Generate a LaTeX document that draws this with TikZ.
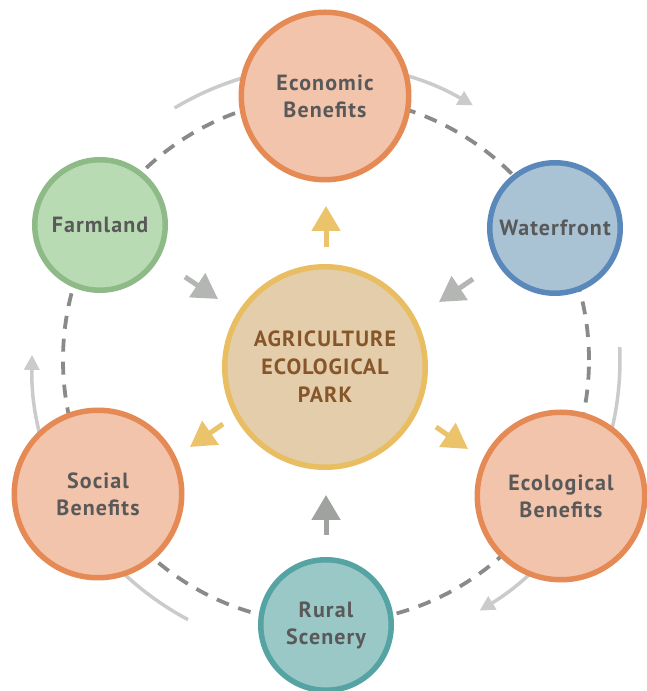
\documentclass[tikz,border=0pt]{standalone}
\usepackage{fontspec}
\setmainfont{PT Sans}
\newfontfamily\lblfont{PT Sans}[LetterSpace=5]
\usetikzlibrary{arrows.meta,calc}
\definecolor{txt}{HTML}{595959}
\definecolor{ctxt}{HTML}{86562A}
\definecolor{orfill}{HTML}{F2C4AC}
\definecolor{ordraw}{HTML}{E58A55}
\definecolor{grfill}{HTML}{B9DBB4}
\definecolor{grdraw}{HTML}{8DBA86}
\definecolor{blfill}{HTML}{A9C3D5}
\definecolor{bldraw}{HTML}{5B88BB}
\definecolor{tlfill}{HTML}{9AC8C7}
\definecolor{tldraw}{HTML}{55A3A2}
\definecolor{cfill}{HTML}{E3CDAA}
\definecolor{cdraw}{HTML}{E9BE62}
\definecolor{yarr}{HTML}{EBC36B}
\definecolor{garr}{HTML}{B4B6B4}
\definecolor{darr}{HTML}{A0A2A0}
\definecolor{ring}{HTML}{8A8A8A}
\definecolor{outer}{HTML}{CACBCA}
\tikzset{
  bubble/.style={circle, line width=5.5pt, align=center, text=txt,
    font=\lblfont\fontsize{22}{27}\selectfont\bfseries, inner sep=0pt},
  bigbubble/.style={bubble, minimum size=167.5pt, fill=orfill, draw=ordraw},
  smallbubble/.style={bubble, minimum size=130.5pt},
  fatarrow/.style={line width=5pt, -{Triangle[length=25pt,width=28pt]}},
  cyclearc/.style={draw=outer, line width=3.5pt, -{Triangle[length=15pt,width=15pt]}},
  ringline/.style={draw=ring, line width=3.8pt, dash pattern=on 13pt off 10pt}
}
\begin{document}
\begin{tikzpicture}[x=1pt,y=1pt]
\useasboundingbox (0,0) rectangle (647,691);
\coordinate (C) at (326,331);
% outer cycle arcs
\draw[cyclearc] ($(C)+(121:294)$) arc[start angle=121, end angle=60, radius=294];
\draw[cyclearc] ($(C)+(2.5:294)$) arc[start angle=2.5, end angle=-58.5, radius=294];
\draw[cyclearc] ($(C)+(242:294)$) arc[start angle=242, end angle=179, radius=294];
% dashed ring
\draw[ringline] (C) circle[radius=263];
% nodes
\node[bigbubble] (eco) at (325,595) {Economic\\Benefits};
\node[bigbubble] (soc) at (98,197) {Social\\Benefits};
\node[bigbubble] (ecol) at (561,195) {Ecological\\Benefits};
\node[smallbubble, fill=grfill, draw=grdraw] (farm) at (100,466) {Farmland};
\node[smallbubble, fill=blfill, draw=bldraw] (water) at (555,463) {Waterfront};
\node[smallbubble, fill=tlfill, draw=tldraw] (rural) at (326,66) {Rural\\Scenery};
\node[bubble, minimum size=200.5pt, fill=cfill, draw=cdraw, text=ctxt,
  font=\lblfont\fontsize{22}{28}\selectfont\bfseries] (park) at (325,324) {AGRICULTURE\\ECOLOGICAL\\PARK};
% arrows
\coordinate (a1s) at (326,444); \coordinate (a1e) at (326,485);
\coordinate (a2s) at (223,267); \coordinate (a2e) at (190,244);
\coordinate (a3s) at (436,264); \coordinate (a3e) at (468,242);
\coordinate (g1s) at (185,414); \coordinate (g1e) at (218,392);
\coordinate (g2s) at (473,412); \coordinate (g2e) at (439,389);
\coordinate (g3s) at (326,156); \coordinate (g3e) at (326,196);
\draw[fatarrow, draw=yarr, fill=yarr] (a1s) -- (a1e);
\draw[fatarrow, draw=yarr, fill=yarr] (a2s) -- (a2e);
\draw[fatarrow, draw=yarr, fill=yarr] (a3s) -- (a3e);
\draw[fatarrow, draw=garr, fill=garr] (g1s) -- (g1e);
\draw[fatarrow, draw=garr, fill=garr] (g2s) -- (g2e);
\draw[fatarrow, draw=darr, fill=darr] (g3s) -- (g3e);
\end{tikzpicture}
\end{document}
